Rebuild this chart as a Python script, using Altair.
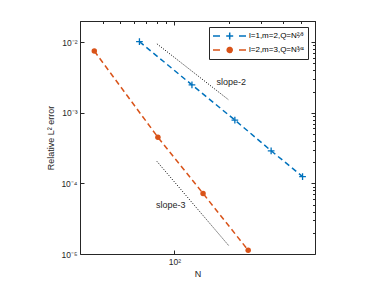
import altair as alt
import pandas as pd

series_names = ["l=1,m=2,Q=N²⁄³", "l=2,m=3,Q=N³⁄⁴"]
series_colors = ["#0072BD", "#D95319"]

N1 = [64, 125, 216, 343, 512]
E1 = [0.0102, 0.00249, 0.00079, 0.00029, 0.000125]
N2 = [36, 81, 144, 256]
E2 = [0.0075, 0.00045, 0.000072, 0.0000113]

slope_names = ["slope-2", "slope-3"]
slope2_N = [80, 200]
slope2_E = [0.0095, 0.00152]
slope3_N = [80, 200]
slope3_E = [0.000205, 0.0000131]

label_N = [171, 79]
label_E = [0.00274, 0.00005]

x_major = [100]
x_minor = [30, 40, 50, 60, 70, 80, 90, 200, 300, 400, 500, 600]
y_major = [1e-5, 1e-4, 1e-3, 1e-2]
y_minor = [m * 10.0 ** e for e in (-5, -4, -3) for m in range(2, 10)] + [0.02]

rows = []
for n, e in zip(N1, E1):
    rows.append({"N": n, "err": e, "series": series_names[0]})
for n, e in zip(N2, E2):
    rows.append({"N": n, "err": e, "series": series_names[1]})
df = pd.DataFrame(rows)
df1 = df[df.series == series_names[0]]
df2 = df[df.series == series_names[1]]

srows = []
for n, e in zip(slope2_N, slope2_E):
    srows.append({"sN": n, "sE": e, "g": slope_names[0]})
for n, e in zip(slope3_N, slope3_E):
    srows.append({"sN": n, "sE": e, "g": slope_names[1]})
sdf = pd.DataFrame(srows)

tdf = pd.DataFrame({"tN": label_N, "tE": label_E, "txt": slope_names})

xscale = alt.Scale(type="log", domain=[30, 600], nice=False)
yscale = alt.Scale(type="log", domain=[1e-5, 2e-2], nice=False)
cscale = alt.Scale(domain=series_names, range=series_colors)

plus_legend = "M-1,0H0.4M4.2,0H5.6M1.64,0H3.04M2.34,-0.7V0.7"
circ_legend = "M-1,0H0.4M4.2,0H5.6M2.84,0A0.5,0.5 0 1 1 1.84,0A0.5,0.5 0 1 1 2.84,0Z"

legend = alt.Legend(
    title=None, orient="none", legendX=129, legendY=6, direction="vertical",
    symbolSize=100, labelOffset=25, labelFont="Liberation Sans", labelFontSize=8,
    labelColor="#000000", strokeColor="#262626", fillColor="white", padding=3,
    rowPadding=1, symbolStrokeWidth=1.5, symbolOpacity=1, symbolDash=[1, 0], labelLimit=200,
)

y_lab_expr = ("datum.value < 0.00002 ? '10⁻⁵' : datum.value < 0.0002 ? '10⁻⁴' : "
              "datum.value < 0.002 ? '10⁻³' : '10⁻²'")

x_bot_major = alt.Axis(values=x_major, labelExpr="'10²'", title="N", tickSize=4, offset=-4,
                       labelPadding=3, titlePadding=4)
x_bot_minor = alt.Axis(values=x_minor, labels=False, title=None, tickSize=2.5, offset=-2.5)
x_top_major = alt.Axis(values=x_major, orient="top", labels=False, title=None, tickSize=4, offset=-4)
x_top_minor = alt.Axis(values=x_minor, orient="top", labels=False, title=None, tickSize=2.5, offset=-2.5)
y_left_major = alt.Axis(values=y_major, labelExpr=y_lab_expr, title="Relative L² error",
                        tickSize=4, offset=-4, labelPadding=3, titlePadding=5)
y_left_minor = alt.Axis(values=y_minor, labels=False, title=None, tickSize=2.5, offset=-2.5)
y_right_major = alt.Axis(values=y_major, orient="right", labels=False, title=None, tickSize=4, offset=-4)
y_right_minor = alt.Axis(values=y_minor, orient="right", labels=False, title=None, tickSize=2.5, offset=-2.5)

lines = alt.Chart(df).mark_line(strokeWidth=1.5, strokeDash=[5.5, 3.5]).encode(
    x=alt.X("N:Q", scale=xscale, axis=x_bot_major),
    y=alt.Y("err:Q", scale=yscale, axis=y_left_major),
    color=alt.Color("series:N", scale=cscale, legend=legend),
)

pts1 = alt.Chart(df1).mark_point(shape="M-1,0H1M0,-1V1", size=45, strokeWidth=1.3,
                                 opacity=1, color=series_colors[0]).encode(
    x=alt.X("N:Q", scale=xscale, axis=x_bot_minor),
    y=alt.Y("err:Q", scale=yscale, axis=y_left_minor),
)

pts2 = alt.Chart(df2).mark_point(shape="circle", size=30, filled=True,
                                 opacity=1, color=series_colors[1]).encode(
    x=alt.X("N:Q", scale=xscale, axis=x_top_major),
    y=alt.Y("err:Q", scale=yscale, axis=y_right_major),
)

slopes = alt.Chart(sdf).mark_line(color="black", strokeWidth=1, strokeDash=[1, 1.6]).encode(
    x=alt.X("sN:Q", scale=xscale, axis=x_top_minor),
    y=alt.Y("sE:Q", scale=yscale, axis=y_right_minor),
    detail="g:N",
)

texts = alt.Chart(tdf).mark_text(align="left", baseline="middle", font="Liberation Sans",
                                 fontSize=9, color="#262626").encode(
    x=alt.X("tN:Q", scale=xscale, axis=None),
    y=alt.Y("tE:Q", scale=yscale, axis=None),
    text="txt:N",
)

leg = alt.Chart(df).mark_point(filled=False, opacity=0, strokeWidth=1.5).encode(
    x=alt.X("N:Q", scale=xscale, axis=None),
    y=alt.Y("err:Q", scale=yscale, axis=None),
    color=alt.Color("series:N", scale=cscale, legend=legend),
    fill=alt.Fill("series:N", scale=alt.Scale(domain=series_names,
                  range=["transparent", series_colors[1]]), legend=legend),
    shape=alt.Shape("series:N", scale=alt.Scale(domain=series_names,
                    range=[plus_legend, circ_legend]), legend=legend),
)

chart = alt.layer(lines, pts1, pts2, slopes, texts, leg).resolve_axis(
    x="independent", y="independent"
).properties(
    width=235, height=233,
    autosize=alt.AutoSizeParams(type="none"),
    padding={"left": 72, "top": 13, "right": 59, "bottom": 30},
).configure_view(
    stroke="#262626", strokeWidth=1
).configure_axis(
    domain=False, grid=False, tickColor="#262626", labelColor="#262626",
    labelFont="Liberation Sans", labelFontSize=8.5, titleFont="Liberation Sans",
    titleFontSize=9, titleFontWeight="normal", titleColor="#262626",
)

chart.save("out.html", embed_options={"renderer": "svg", "actions": False})
